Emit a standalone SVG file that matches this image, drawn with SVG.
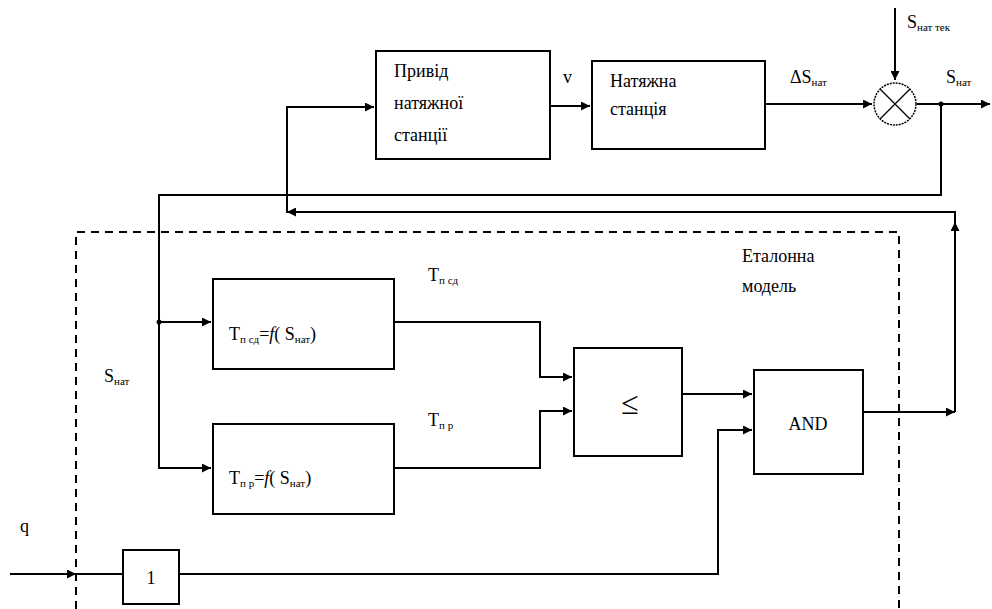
<svg xmlns="http://www.w3.org/2000/svg" width="992" height="609" viewBox="0 0 992 609">
<style>
.b{fill:#fff;stroke:#000;stroke-width:2}
.l{fill:none;stroke:#000;stroke-width:2}
.d{fill:none;stroke:#000;stroke-width:2;stroke-dasharray:8,6}
</style>
<defs>
<marker id="a" viewBox="0 0 10 10" refX="10" refY="5" markerWidth="11" markerHeight="9" markerUnits="userSpaceOnUse" orient="auto">
<path d="M0,0 L10,5 L0,10 z" fill="#000"/>
</marker>
</defs>
<rect width="992" height="609" fill="#fff"/>
<g font-family="Liberation Serif, DejaVu Serif, serif" font-size="18" fill="#000">
<g id="model-frame">
<path class="d" d="M76,609 V232 H899 V609"/>
<text x="742" y="262">Еталонна</text>
<text x="742" y="292">модель</text>
</g>
<g id="connectors">
<path class="l" d="M287,213 V107 H374" marker-end="url(#a)"/>
<path class="l" d="M550,106 H590" marker-end="url(#a)"/>
<path class="l" d="M765,104 H872" marker-end="url(#a)"/>
<path class="l" d="M895,8 V80" marker-end="url(#a)"/>
<path class="l" d="M917,104 H990" marker-end="url(#a)"/>
<path class="l" d="M941,104 V195 H159 V468 H211" marker-end="url(#a)"/>
<path class="l" d="M159,322 H211" marker-end="url(#a)"/>
<path class="l" d="M394,322 H540 V377 H572" marker-end="url(#a)"/>
<path class="l" d="M394,468 H540 V411 H572" marker-end="url(#a)"/>
<path class="l" d="M682,394 H752" marker-end="url(#a)"/>
<path class="l" d="M179,574 H718 V430 H752" marker-end="url(#a)"/>
<path class="l" d="M10,574 H76" marker-end="url(#a)"/>
<path class="l" d="M76,574 H123"/>
<path class="l" d="M863,412 H955" marker-end="url(#a)"/>
<path class="l" d="M955,412 V222" marker-end="url(#a)"/>
<path class="l" d="M955,224 V212 H287" marker-end="url(#a)"/>
<circle cx="941" cy="104" r="2.5" fill="#000"/>
<circle cx="159" cy="322" r="2.5" fill="#000"/>
<text x="563" y="83">v</text>
<text x="790" y="83">ΔS<tspan font-size="11" dy="3">нат</tspan></text>
<text x="907" y="28">S<tspan font-size="11" dy="3">нат тек</tspan></text>
<text x="946" y="83">S<tspan font-size="11" dy="3">нат</tspan></text>
<text x="104" y="382">S<tspan font-size="11" dy="3">нат</tspan></text>
<text x="428" y="281">T<tspan font-size="11" dy="3">п сд</tspan></text>
<text x="428" y="426">T<tspan font-size="11" dy="3">п р</tspan></text>
<text x="20" y="532">q</text>
</g>
<g id="drive">
<rect class="b" x="376" y="51" width="174" height="108"/>
<text x="394" y="77">Привід</text>
<text x="394" y="109">натяжної</text>
<text x="394" y="141">станції</text>
</g>
<g id="station">
<rect class="b" x="592" y="61" width="173" height="88"/>
<text x="610" y="87">Натяжна</text>
<text x="610" y="115">станція</text>
</g>
<g id="sum">
<circle cx="895" cy="104" r="21" fill="#fff" stroke="#000" stroke-width="1.5" stroke-dasharray="2,1"/>
<path d="M880,89 L910,119 M910,89 L880,119" stroke="#000" stroke-width="1.3"/>
</g>
<g id="f-sd">
<rect class="b" x="213" y="279" width="181" height="90"/>
<text x="229" y="340">T<tspan font-size="11" dy="3">п сд</tspan><tspan dy="-3">=</tspan><tspan font-style="italic">f</tspan>( S<tspan font-size="11" dy="3">нат</tspan><tspan dy="-3">)</tspan></text>
</g>
<g id="f-r">
<rect class="b" x="213" y="424" width="181" height="90"/>
<text x="229" y="484">T<tspan font-size="11" dy="3">п р</tspan><tspan dy="-3">=</tspan><tspan font-style="italic">f</tspan>( S<tspan font-size="11" dy="3">нат</tspan><tspan dy="-3">)</tspan></text>
</g>
<g id="compare">
<rect class="b" x="574" y="348" width="108" height="108"/>
<text x="630" y="414" text-anchor="middle" font-size="32">≤</text>
</g>
<g id="and">
<rect class="b" x="754" y="370" width="109" height="104"/>
<text x="808" y="430" text-anchor="middle">AND</text>
</g>
<g id="not">
<rect class="b" x="123" y="550" width="56" height="54"/>
<text x="151" y="584" text-anchor="middle">1</text>
</g>
</g>
</svg>
